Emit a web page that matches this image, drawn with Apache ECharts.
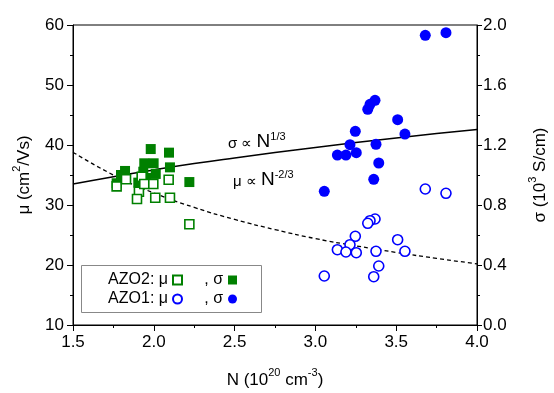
<!DOCTYPE html>
<html>
<head>
<meta charset="utf-8">
<script src="https://cdn.jsdelivr.net/npm/echarts@6/dist/echarts.min.js"></script>
<style>html,body{margin:0;padding:0;background:#fff;}#c{width:554px;height:393px;}</style>
</head>
<body>
<div id="c"></div>
<script>
// ---- data ----
const xTicks = [1.5, 2.0, 2.5, 3.0, 3.5, 4.0];
const muTicks = [10, 20, 30, 40, 50, 60];
const sigmaTicks = [0.0, 0.4, 0.8, 1.2, 1.6, 2.0];

// AZO2 (green)
const azo2MuN   = [1.770, 1.828, 1.908, 1.896, 1.925, 1.941, 1.997, 2.009, 2.092, 2.100, 2.220];
const azo2Mu    = [33.1, 34.3, 32.2, 31.0, 34.7, 33.5, 33.5, 31.2, 34.2, 31.2, 26.8];
const azo2SigN  = [1.981, 2.094, 1.941, 1.999, 2.100, 1.822, 1.797, 2.012, 1.935, 1.770, 1.904, 2.220, 1.952];
const azo2Sig   = [1.173, 1.149, 1.078, 1.078, 1.051, 1.027, 1.000, 1.007, 1.022, 0.945, 0.949, 0.953, 0.980];

// AZO1 (blue)
const azo1N     = [3.680, 3.808, 3.369, 3.338, 3.324, 3.509, 3.247, 3.554, 3.214, 3.375, 3.136, 3.189, 3.253, 3.392, 3.361, 3.055];
const azo1Mu    = [32.67, 31.95, 27.67, 27.38, 26.95, 24.22, 24.78, 22.28, 23.38, 22.28, 22.55, 22.17, 22.05, 19.83, 18.05, 18.17];
const azo1Sig   = [1.931, 1.949, 1.498, 1.471, 1.438, 1.369, 1.291, 1.273, 1.202, 1.205, 1.133, 1.133, 1.149, 1.080, 0.971, 0.891];

// guide curves
const fitN      = [1.5, 1.75, 2.0, 2.25, 2.5, 2.75, 3.0, 3.25, 3.5, 3.75, 4.0];
const fitSigma  = [0.940, 0.989, 1.034, 1.076, 1.114, 1.150, 1.184, 1.216, 1.247, 1.276, 1.303];
const fitMu     = [38.8, 35.0, 32.0, 29.6, 27.6, 25.9, 24.4, 23.2, 22.1, 21.1, 20.2];

const zip = (a, b) => a.map((v, i) => [v, b[i]]);
const FONT = '"Liberation Sans", Arial, sans-serif';
const GREEN = '#008000', BLUE = '#0000ff';

const chart = echarts.init(document.getElementById('c'), null, {renderer: 'canvas'});

const legendText = {
  fontFamily: FONT, fontSize: 16, color: '#000',
  rich: {
    a: {width: 68, fontFamily: FONT, fontSize: 16, lineHeight: 18},
    b: {width: 25, fontFamily: FONT, fontSize: 16, lineHeight: 18}
  }
};
const legendFmt = n => n.indexOf('σ') >= 0 ? '{b|, σ}' : '{a|' + n + '}';

const nameRich = {
  t: {fontFamily: FONT, fontSize: 17, lineHeight: 22, verticalAlign: 'bottom', color: '#000'},
  sup: {fontFamily: FONT, fontSize: 11, lineHeight: 12, verticalAlign: 'top', color: '#000'}
};

chart.setOption({
  animation: false,
  backgroundColor: '#fff',
  grid: {left: 73, right: 77, top: 25, bottom: 68, show: true, borderColor: '#000', borderWidth: 1,
         backgroundColor: 'transparent', containLabel: false, outerBoundsMode: 'none'},
  xAxis: {
    type: 'value', min: 1.5, max: 4.0, interval: 0.5,
    name: '{t|N (10}{sup|20}{t| cm}{sup|-3}{t|)}', nameLocation: 'middle', nameGap: 42,
    nameTextStyle: {fontFamily: FONT, fontSize: 17, color: '#000', rich: nameRich},
    axisLine: {lineStyle: {color: '#000', width: 1}},
    axisTick: {inside: false, length: 6, lineStyle: {color: '#000'}},
    minorTick: {show: true, splitNumber: 2, length: 3, lineStyle: {color: '#000'}},
    axisLabel: {fontFamily: FONT, fontSize: 17, color: '#000', margin: 9, formatter: v => v.toFixed(1)},
    splitLine: {show: false}
  },
  yAxis: [{
    type: 'value', min: 10, max: 60, interval: 10, position: 'left',
    name: '{t|μ (cm}{sup|2}{t|/Vs)}', nameLocation: 'middle', nameGap: 40, nameRotate: 90,
    nameTextStyle: {fontFamily: FONT, fontSize: 17, color: '#000', rich: nameRich},
    axisLine: {show: true, lineStyle: {color: '#000', width: 1}},
    axisTick: {show: true, inside: false, length: 6, lineStyle: {color: '#000'}},
    minorTick: {show: true, splitNumber: 2, length: 3, lineStyle: {color: '#000'}},
    axisLabel: {fontFamily: FONT, fontSize: 17, color: '#000', margin: 9},
    splitLine: {show: false}
  }, {
    type: 'value', min: 0, max: 2.0, interval: 0.4, position: 'right',
    name: '{t|σ (10}{sup|3}{t| S/cm)}', nameLocation: 'middle', nameGap: 50, nameRotate: 90,
    nameTextStyle: {fontFamily: FONT, fontSize: 17, color: '#000', rich: nameRich},
    axisLine: {show: true, lineStyle: {color: '#000', width: 1}},
    axisTick: {show: true, inside: false, length: 5, lineStyle: {color: '#000'}},
    minorTick: {show: true, splitNumber: 2, length: 3, lineStyle: {color: '#000'}},
    axisLabel: {fontFamily: FONT, fontSize: 17, color: '#000', margin: 6, formatter: v => v.toFixed(1)},
    splitLine: {show: false}
  }],
  legend: [{
    left: 100, top: 272, padding: 0, itemGap: 15, align: 'right', itemWidth: 9, itemHeight: 9,
    data: ['AZO2: μ', 'AZO2: σ'], formatter: legendFmt, textStyle: legendText, selectedMode: false
  }, {
    left: 100, top: 291, padding: 0, itemGap: 15, align: 'right', itemWidth: 9, itemHeight: 9,
    data: ['AZO1: μ', 'AZO1: σ'], formatter: legendFmt, textStyle: legendText, selectedMode: false
  }],
  graphic: [
    {type: 'rect', left: 81, top: 265, shape: {width: 180, height: 47},
     style: {fill: '#fff', stroke: '#888', lineWidth: 1}, z: -1, silent: true},
    {type: 'text', left: 228, top: 131, silent: true, style: {
      text: '{s|σ ∝ }{n|N}{sup|1/3}', fill: '#000',
      rich: {s: {fontFamily: FONT, fontSize: 15, lineHeight: 20, verticalAlign: 'bottom'},
             n: {fontFamily: FONT, fontSize: 19, lineHeight: 20, verticalAlign: 'bottom'},
             sup: {fontFamily: FONT, fontSize: 11, verticalAlign: 'top'}}}},
    {type: 'text', left: 233, top: 169, silent: true, style: {
      text: '{s|μ ∝ }{n|N}{sup|-2/3}', fill: '#000',
      rich: {s: {fontFamily: FONT, fontSize: 15, lineHeight: 20, verticalAlign: 'bottom'},
             n: {fontFamily: FONT, fontSize: 19, lineHeight: 20, verticalAlign: 'bottom'},
             sup: {fontFamily: FONT, fontSize: 11, verticalAlign: 'top'}}}}
  ],
  series: [
    {name: 'σ fit', type: 'line', yAxisIndex: 1, data: zip(fitN, fitSigma), smooth: true,
     showSymbol: false, lineStyle: {color: '#000', width: 1.5}, z: 1, silent: true},
    {name: 'μ fit', type: 'line', yAxisIndex: 0, data: zip(fitN, fitMu), smooth: true,
     showSymbol: false, lineStyle: {color: '#000', width: 1.3, type: [4, 3]}, z: 1, silent: true},
    {name: 'AZO2: σ', type: 'scatter', yAxisIndex: 1, data: zip(azo2SigN, azo2Sig),
     symbol: 'rect', symbolSize: 10, itemStyle: {color: GREEN, opacity: 1}, z: 2},
    {name: 'AZO2: μ', type: 'scatter', yAxisIndex: 0, data: zip(azo2MuN, azo2Mu),
     symbol: 'rect', symbolSize: 9, itemStyle: {color: '#fff', borderColor: GREEN, borderWidth: 1.6, opacity: 1}, z: 3},
    {name: 'AZO1: σ', type: 'scatter', yAxisIndex: 1, data: zip(azo1N, azo1Sig),
     symbol: 'circle', symbolSize: 11, itemStyle: {color: BLUE, opacity: 1}, z: 2},
    {name: 'AZO1: μ', type: 'scatter', yAxisIndex: 0, data: zip(azo1N, azo1Mu),
     symbol: 'circle', symbolSize: 10, itemStyle: {color: '#fff', borderColor: BLUE, borderWidth: 1.6, opacity: 1}, z: 3}
  ]
});
</script>
</body>
</html>
